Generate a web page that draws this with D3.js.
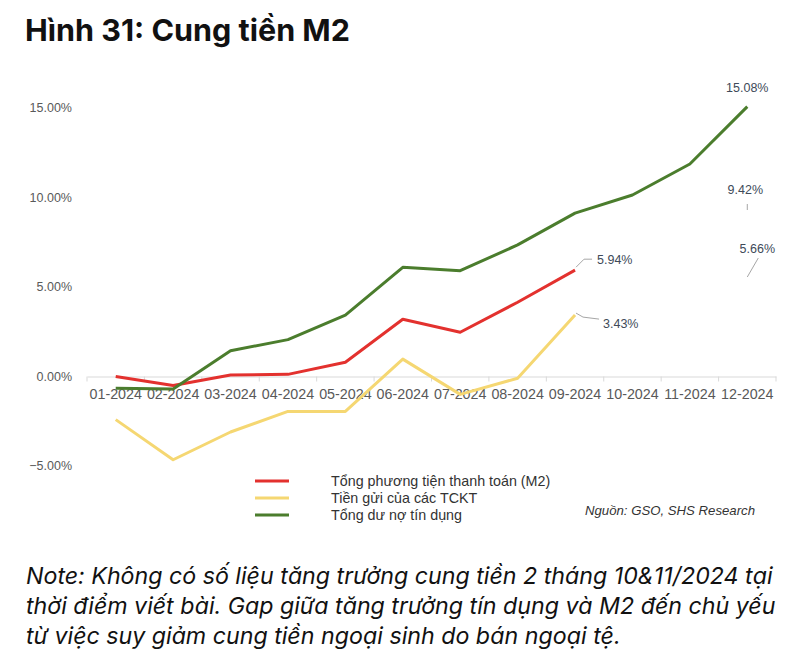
<!DOCTYPE html>
<html><head><meta charset="utf-8">
<script src="https://cdn.jsdelivr.net/npm/d3@7"></script>
<style>
body{margin:0;background:#fff;}
svg{display:block;}
</style></head>
<body>
<svg id="c" width="801" height="665"></svg>
<script>
const months = ["01-2024","02-2024","03-2024","04-2024","05-2024","06-2024","07-2024","08-2024","09-2024","10-2024","11-2024","12-2024"];
const m2 = [0.0,-0.5,0.08,0.12,0.8,3.2,2.47,4.15,5.94,null,null,null];
const deposits = [-2.41,-4.65,-3.1,-1.95,-1.95,0.97,-1.0,-0.1,3.43,null,null,null];
const credit = [-0.66,-0.7,1.44,2.06,3.43,6.1,5.91,7.35,9.13,10.14,11.87,15.08];
const yTicks = [-5,0,5,10,15];
const seriesNames = ["Tổng phương tiện thanh toán (M2)","Tiền gửi của các TCKT","Tổng dư nợ tín dụng"];
const colors = ["#e3312e","#f5d772","#4b7d2d"];

const svg = d3.select("#c");
const x = d3.scaleBand().domain(months).range([87,776]);
const y = d3.scaleLinear().domain([-5,15]).range([466,108]);
const cx = m => x(m) + x.bandwidth()/2;

// title
svg.append("text").attr("x",25).attr("y",41).attr("font-family","Inter, 'Noto Sans', sans-serif")
  .attr("font-weight",700).attr("font-size",30.5).attr("fill","#111").text("Hình 31: Cung tiền M2");

// y labels
svg.append("g").selectAll("text").data(yTicks).join("text")
  .attr("x",72).attr("y",d=>y(d)).attr("dy","0.35em").attr("text-anchor","end")
  .attr("font-family","'Liberation Sans', Arial, sans-serif").attr("font-size",12.5).attr("fill","#595959")
  .text(d=>d3.format(".2f")(d)+"%");

// x axis at 0
const xa = svg.append("g").attr("transform",`translate(0,${y(0)})`)
  .call(d3.axisBottom(x).tickSize(0).tickPadding(12));
xa.select(".domain").attr("stroke","#d9d9d9").attr("stroke-width",1);
xa.selectAll("text").attr("font-family","'Liberation Sans', Arial, sans-serif").attr("font-size",14.3).attr("fill","#595959");
const bounds = months.map(m=>x(m)).concat([x(months[months.length-1])+x.bandwidth()]);
xa.selectAll("line.tk").data(bounds).join("line").attr("class","tk")
  .attr("x1",d=>d).attr("x2",d=>d).attr("y1",0).attr("y2",5).attr("stroke","#d9d9d9");

// lines
const line = d3.line().defined(d=>d.v!==null).x(d=>cx(d.m)).y(d=>y(d.v));
[m2,deposits,credit].forEach((s,i)=>{
  svg.append("path").datum(months.map((m,j)=>({m,v:s[j]})))
    .attr("d",line).attr("fill","none").attr("stroke",colors[i]).attr("stroke-width",3)
    .attr("stroke-linejoin","round");
});

// data labels
const lblFont = "'Liberation Sans', Arial, sans-serif";
function lbl(tx,ty,t,anchor){
  svg.append("text").attr("x",tx).attr("y",ty).attr("dy","0.35em").attr("text-anchor",anchor||"start")
    .attr("font-family",lblFont).attr("font-size",12.5).attr("fill","#404a59").text(t);
}
const lead = (pts)=>svg.append("path").attr("d",d3.line()(pts)).attr("fill","none").attr("stroke","#a6a6a6").attr("stroke-width",1);
const x9 = cx("09-2024"), x12 = cx("12-2024");
lbl(x12,88,"15.08%","middle");
lbl(x9+22,y(5.94)-11,"5.94%");
lead([[x9+1,y(5.94)-3],[x9+9,y(5.94)-11],[x9+17,y(5.94)-11]]);
lbl(x9+28,y(3.43)+9,"3.43%");
lead([[x9+1,y(3.43)-2],[x9+8,y(3.43)+2],[x9+24,y(3.43)+4]]);
lbl(x12-2,190,"9.42%","middle");
lead([[x12,204],[x12,210]]);
lbl(x12+10,249,"5.66%","middle");
lead([[x12+11,258],[x12,277]]);

// legend
const lg = svg.append("g");
seriesNames.forEach((n,i)=>{
  const ly = 481 + i*17;
  lg.append("line").attr("x1",255).attr("x2",289).attr("y1",ly).attr("y2",ly)
    .attr("stroke",colors[i]).attr("stroke-width",3);
  lg.append("text").attr("x",331).attr("y",ly).attr("dy","0.33em")
    .attr("font-family","'Liberation Sans', Arial, sans-serif").attr("font-size",14.3).attr("fill","#333").text(n);
});
svg.append("text").attr("x",755).attr("y",510).attr("dy","0.35em").attr("text-anchor","end")
  .attr("font-family","'Liberation Sans', Arial, sans-serif").attr("font-style","italic").attr("font-size",13.2).attr("fill","#333")
  .text("Nguồn: GSO, SHS Research");

// note
const note = ["Note: Không có số liệu tăng trưởng cung tiền 2 tháng 10&11/2024 tại",
  "thời điểm viết bài. Gap giữa tăng trưởng tín dụng và M2 đến chủ yếu",
  "từ việc suy giảm cung tiền ngoại sinh do bán ngoại tệ."];
svg.append("g").selectAll("text").data(note).join("text")
  .attr("x",26).attr("y",(d,i)=>584+i*30).attr("font-family","Inter, 'Noto Sans', sans-serif")
  .attr("font-style","italic").attr("font-size",23.2).attr("fill","#111").text(d=>d);
</script>
</body></html>
